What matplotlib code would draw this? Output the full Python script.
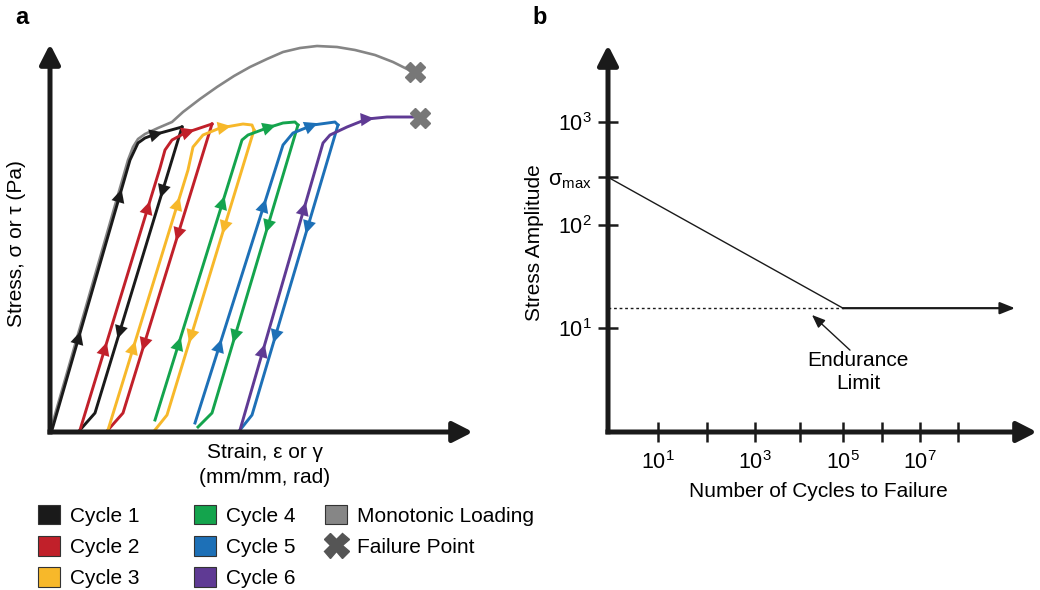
import numpy as np
import matplotlib
matplotlib.use('Agg')
import matplotlib.pyplot as plt
from matplotlib.patches import Patch
from matplotlib.lines import Line2D

plt.rcParams['font.family'] = ['Liberation Sans', 'DejaVu Sans']
plt.rcParams['mathtext.fontset'] = 'custom'
plt.rcParams['mathtext.rm'] = 'Liberation Sans'
plt.rcParams['mathtext.default'] = 'regular'

# ---- panel a: schematic cyclic loading (arbitrary strain / stress units) ----
mono_strain = [0, 78, 83, 88, 95, 108, 115, 122, 133, 150, 167, 184, 200, 217, 233, 250,
               267, 287, 305, 325, 343, 363]
mono_stress = [0, 272, 285, 293, 298, 304, 307, 310, 320, 333, 345, 356, 365, 373, 380, 384,
               386, 385, 382, 377, 370, 360]

cycle_labels = ['Cycle 1', 'Cycle 2', 'Cycle 3', 'Cycle 4', 'Cycle 5', 'Cycle 6']
cycle_colors = ['#1a1a1a', '#c1202a', '#f7b82a', '#14a44d', '#1d70b7', '#5f3a94']

load_strain = [[2, 80, 88, 95, 103, 132],
               [30, 110, 115, 122, 135, 162],
               [58, 138, 143, 153, 170, 193, 202, 204],
               [105, 192, 198, 217, 233, 245, 248],
               [145, 233, 243, 263, 285, 288],
               [190, 273, 280, 297, 317, 337, 367]]
load_stress = [[2, 272, 289, 294, 297, 305],
               [2, 264, 282, 292, 299, 308],
               [2, 262, 285, 297, 304, 308, 307, 302],
               [12, 292, 297, 304, 309, 310, 307],
               [9, 287, 299, 307, 310, 307],
               [2, 289, 297, 305, 313, 315, 315]]
unload_strain = [[132, 45, 30], [162, 73, 58], [204, 117, 105],
                 [248, 162, 148], [288, 202, 190], []]
unload_stress = [[305, 19, 2], [308, 19, 2], [302, 17, 2],
                 [307, 19, 5], [307, 17, 2], []]

# stress levels of the direction arrows on each branch
up_arrow_stress = [[95, 237], [84, 225], [85, 229], [89, 230], [87, 227], [82, 224]]
down_arrow_stress = [[240, 99], [197, 87], [204, 95], [205, 95], [204, 95], []]
top_arrow_strain = [107, 139, 175, 220, 262, 318]

fail_strain = [365, 370]
fail_stress = [360, 314]

# ---- panel b: S-N curve ----
n_tick_pos = [50, 99, 147, 192, 235, 274, 312, 350]
n_tick_labels = ['$10^1$', '', '$10^3$', '', '$10^5$', '', '$10^7$', '']
sn_pos = [0, 235]
sn_amp = [292, 15.6]
endurance_pos = [235, 407]
endurance_amp = 15.6
amp_ticks = [10, 100, 292, 1000]
amp_labels = ['$10^1$', '$10^2$', '$σ_{max}$', '$10^3$']

DARK = '#1a1a1a'
FS = 15

fig = plt.figure(figsize=(10.4, 5.9), dpi=100)


def head(ax, x, y, dx, dy, color, size=19):
    n = np.hypot(dx, dy)
    dx, dy = dx / n, dy / n
    ax.annotate('', xy=(x + dx * 6, y + dy * 6), xytext=(x - dx * 14, y - dy * 14),
                arrowprops=dict(arrowstyle='-|>,head_length=0.5,head_width=0.25',
                                color=color, lw=0.01, shrinkA=0, shrinkB=0,
                                mutation_scale=size))


# panel a
ax = fig.add_axes([0, 0, 0.5, 1])
ax.set_xlim(-50, 470)
ax.set_ylim(-158, 432)
ax.axis('off')

ax.plot(mono_strain, mono_stress, color='#858585', lw=1.9, solid_capstyle='round', zorder=2)

for i, c in enumerate(cycle_colors):
    lx, ly = load_strain[i], load_stress[i]
    ax.plot(lx, ly, color=c, lw=2.1, solid_joinstyle='round', zorder=3)
    for s in up_arrow_stress[i]:
        x = np.interp(s, [ly[0], ly[1]], [lx[0], lx[1]])
        head(ax, x, s, lx[1] - lx[0], ly[1] - ly[0], c)
    tx = top_arrow_strain[i]
    k = np.searchsorted(lx[1:], tx)
    k = min(max(k, 1), len(lx) - 2)
    ty = np.interp(tx, lx[1:], ly[1:])
    head(ax, tx, ty, lx[k + 1] - lx[k], ly[k + 1] - ly[k], c)
    ux, uy = unload_strain[i], unload_stress[i]
    if ux:
        ax.plot(ux, uy, color=c, lw=2.1, solid_joinstyle='round', zorder=3)
        for s in down_arrow_stress[i]:
            x = np.interp(s, [uy[1], uy[0]], [ux[1], ux[0]])
            head(ax, x, s, ux[1] - ux[0], uy[1] - uy[0], c)

ax.plot(fail_strain, fail_stress, ls='none', marker='X', ms=15, color='#777777', zorder=4)

axis_arrow = dict(arrowstyle='-|>,head_length=0.55,head_width=0.28', lw=3.6, color=DARK,
                  shrinkA=0, shrinkB=0, mutation_scale=22, capstyle='butt')
ax.annotate('', xy=(423, 0), xytext=(-2.5, 0), arrowprops=axis_arrow)
ax.annotate('', xy=(0, 388), xytext=(0, -2.5), arrowprops=axis_arrow)

ax.text(215, -33, 'Strain, ε or γ\n(mm/mm, rad)', ha='center', va='center', fontsize=FS,
        linespacing=1.35)
ax.text(-33, 188, 'Stress, σ or τ (Pa)', ha='center', va='center', rotation=90, fontsize=FS)
fig.text(22 / 1040, 1 - 18 / 590, 'a', fontsize=FS + 2, fontweight='bold', ha='center', va='center')
fig.text(540 / 1040, 1 - 18 / 590, 'b', fontsize=FS + 2, fontweight='bold', ha='center', va='center')

# legends
leg_kw = dict(frameon=False, fontsize=FS, handlelength=1.05, handleheight=1.05,
              handletextpad=0.5, labelspacing=0.5, borderpad=0, borderaxespad=0,
              loc='upper left', bbox_transform=fig.transFigure)
h1 = [Patch(facecolor=c, edgecolor='#333333', lw=0.8) for c in cycle_colors]
fig.legend(h1[:3], cycle_labels[:3], bbox_to_anchor=(38 / 1040, 1 - 505 / 590), **leg_kw)
fig.legend(h1[3:], cycle_labels[3:], bbox_to_anchor=(194 / 1040, 1 - 505 / 590), **leg_kw)
h3 = [Patch(facecolor='#868686', edgecolor='#333333', lw=0.8),
      Line2D([], [], ls='none', marker='X', ms=18, color='#555555')]
fig.legend(h3, ['Monotonic Loading', 'Failure Point'],
           bbox_to_anchor=(325 / 1040, 1 - 505 / 590), **leg_kw)

# panel b
bx = fig.add_axes([608 / 1040, 158 / 590, 429 / 1040, 387 / 590])
bx.set_yscale('log')
bx.set_xlim(0, 429)
bx.set_ylim(10 ** -0.01, 10 ** 3.75)
for sp in bx.spines.values():
    sp.set_visible(False)
bx.set_xticks(n_tick_pos)
bx.set_xticklabels(n_tick_labels)
bx.set_yticks(amp_ticks)
bx.set_yticklabels(amp_labels)
bx.minorticks_off()
bx.tick_params(direction='inout', length=15, width=1.8, color=DARK, labelsize=FS + 0.5)
bx.tick_params(axis='x', pad=6)
bx.tick_params(axis='y', pad=4)

bx.plot(sn_pos, sn_amp, color=DARK, lw=1.0)
bx.plot([sn_pos[0], endurance_pos[0]], [endurance_amp, endurance_amp], color=DARK, lw=1.0,
        ls=(0, (2, 2)))
bx.annotate('', xy=(endurance_pos[1], endurance_amp), xytext=(endurance_pos[0], endurance_amp),
            arrowprops=dict(arrowstyle='-|>,head_length=0.5,head_width=0.2', lw=1.6, color=DARK,
                            shrinkA=0, shrinkB=0, mutation_scale=18))
bx.text(250, 3.74, 'Endurance\nLimit', ha='center', va='center', fontsize=FS, linespacing=1.3)
bx.annotate('', xy=(204, 13.4), xytext=(242, 6.1),
            arrowprops=dict(arrowstyle='-|>,head_length=0.5,head_width=0.2', lw=1.0, color=DARK,
                            shrinkA=0, shrinkB=0, mutation_scale=16))

b_arrow = dict(arrowstyle='-|>,head_length=0.55,head_width=0.28', lw=3.6, color=DARK,
               shrinkA=0, shrinkB=0, mutation_scale=22, capstyle='butt')
bx.annotate('', xy=(1, 0), xytext=(-0.006, 0), xycoords='axes fraction', arrowprops=b_arrow,
            annotation_clip=False)
bx.annotate('', xy=(0, 1), xytext=(0, -0.006), xycoords='axes fraction', arrowprops=b_arrow,
            annotation_clip=False)

bx.set_xlabel('Number of Cycles to Failure', fontsize=FS)
bx.xaxis.set_label_coords(0.49, -0.13)
bx.set_ylabel('Stress Amplitude', fontsize=FS)
bx.yaxis.set_label_coords(-0.15, 0.49)

fig.savefig('out.png', dpi=100)
